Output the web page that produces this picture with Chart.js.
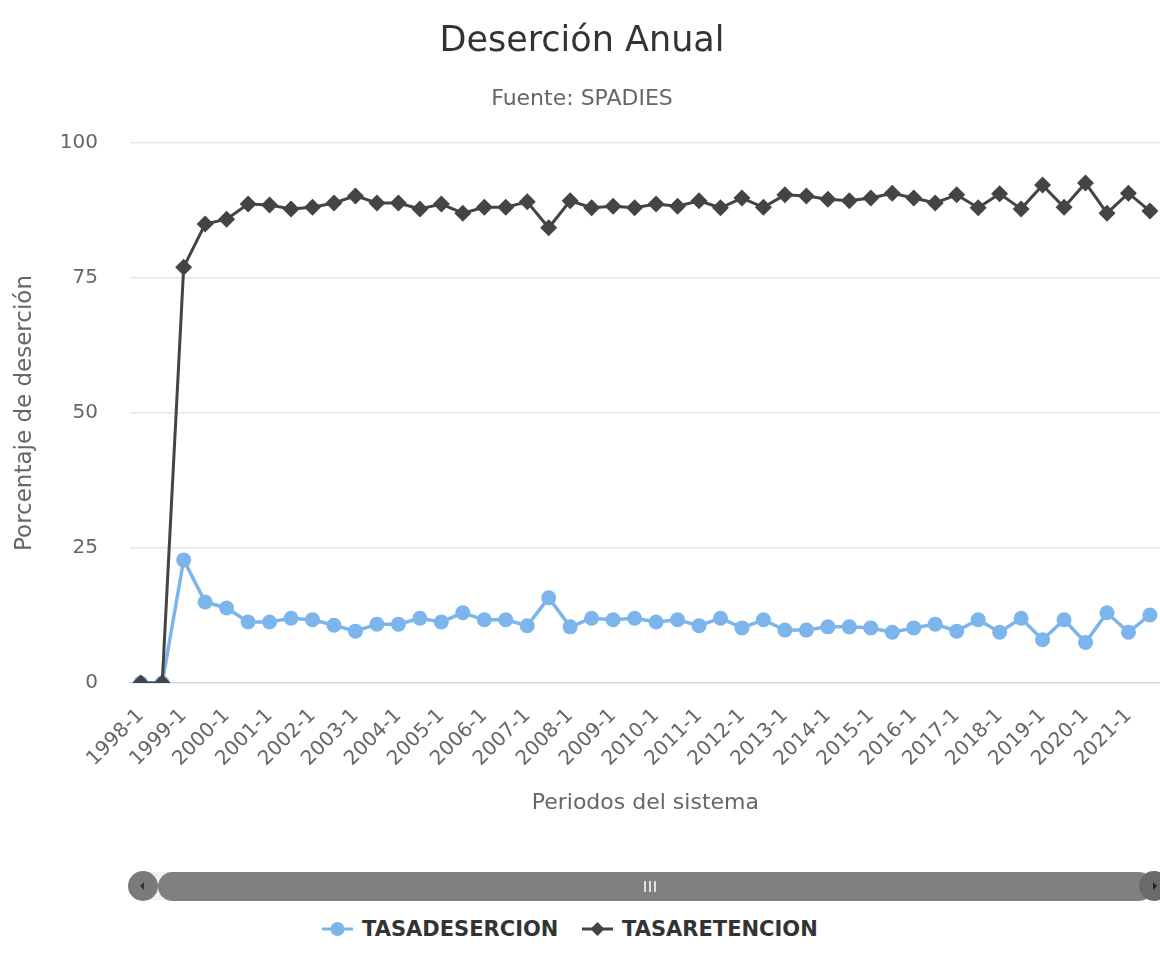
<!DOCTYPE html>
<html>
<head>
<meta charset="utf-8">
<script src="https://cdn.jsdelivr.net/npm/chart.js@4.4.1/dist/chart.umd.min.js"></script>
<style>
  body { margin: 0; background: #fff; width: 1160px; height: 965px; overflow: hidden; position: relative; font-family: "DejaVu Sans", sans-serif; }
  #wrap { position: absolute; left: 0; top: 0; width: 1180px; height: 830px; }
  .title { position: absolute; left: 0; width: 1164px; text-align: center; white-space: nowrap; }
  .track { position: absolute; left: 128px; top: 872px; width: 1060px; height: 28px; background: #f2f2f2; border-radius: 14px; }
  .thumb { position: absolute; left: 158px; top: 872px; width: 995px; height: 29px; background: #808080; border-radius: 15px; }
  .grip { position: absolute; top: 881px; width: 1.5px; height: 11px; background: #e0e0e0; }
  .btn { position: absolute; top: 871px; width: 30px; height: 30px; border-radius: 15px; background: #7a7a7a; }
  .legend { position: absolute; top: 914px; height: 30px; display: flex; align-items: center; font-weight: bold; font-size: 21px; color: #333; }
  .legend svg { margin-right: 9px; }
</style>
</head>
<body>
<div id="wrap"><canvas id="chart" width="1180" height="830"></canvas></div>

<div class="title" style="top:18px; height:42px; line-height:42px; font-size:35px; color:#333;">Deserción Anual</div>
<div class="title" style="top:85px; height:26px; line-height:26px; font-size:22px; color:#666;">Fuente: SPADIES</div>

<!-- navigator scrollbar -->
<div class="track"></div>
<div class="thumb"></div>
<div class="grip" style="left:644px"></div>
<div class="grip" style="left:649px"></div>
<div class="grip" style="left:654px"></div>
<div class="btn" style="left:128px">
  <svg width="30" height="30"><path d="M12 15 L16 11 L16 19 Z" fill="#333"/></svg>
</div>
<div class="btn" style="left:1139px; background:#6a6a6a">
  <svg width="30" height="30"><path d="M18 15 L14 11 L14 19 Z" fill="#222"/></svg>
</div>

<!-- legend -->
<div class="legend" style="left:322px">
  <svg width="31" height="16"><line x1="0" y1="8" x2="31" y2="8" stroke="#7cb5ec" stroke-width="3"/><circle cx="15.5" cy="8" r="7" fill="#7cb5ec"/></svg>TASADESERCION
</div>
<div class="legend" style="left:582px">
  <svg width="31" height="16"><line x1="0" y1="8" x2="31" y2="8" stroke="#434348" stroke-width="3"/><path d="M15.5 1 L22.5 8 L15.5 15 L8.5 8 Z" fill="#434348"/></svg>TASARETENCION
</div>

<script>
// Periodos del sistema (semestres)
const periodos = [
  "1998-1", "1998-2", "1999-1", "1999-2", "2000-1", "2000-2", "2001-1", "2001-2",
  "2002-1", "2002-2", "2003-1", "2003-2", "2004-1", "2004-2", "2005-1", "2005-2",
  "2006-1", "2006-2", "2007-1", "2007-2", "2008-1", "2008-2", "2009-1", "2009-2",
  "2010-1", "2010-2", "2011-1", "2011-2", "2012-1", "2012-2", "2013-1", "2013-2",
  "2014-1", "2014-2", "2015-1", "2015-2", "2016-1", "2016-2", "2017-1", "2017-2",
  "2018-1", "2018-2", "2019-1", "2019-2", "2020-1", "2020-2", "2021-1", "2021-2"
];

const tasaDesercion = [
  0, 0, 22.8, 15.0, 13.9, 11.3, 11.3, 12.0,
  11.7, 10.7, 9.6, 10.9, 10.9, 12.0, 11.3, 13.0,
  11.7, 11.7, 10.6, 15.8, 10.4, 12.0, 11.7, 12.0,
  11.3, 11.7, 10.6, 12.0, 10.2, 11.7, 9.8, 9.8,
  10.4, 10.4, 10.2, 9.4, 10.2, 10.9, 9.6, 11.7,
  9.4, 12.0, 8.0, 11.7, 7.5, 13.0, 9.4, 12.6
];

const tasaRetencion = [
  0, 0, 77.0, 85.0, 85.9, 88.7, 88.5, 87.8,
  88.1, 88.9, 90.2, 88.9, 88.9, 87.8, 88.7, 87.0,
  88.1, 88.1, 89.1, 84.3, 89.3, 88.0, 88.3, 88.0,
  88.7, 88.3, 89.3, 88.0, 89.8, 88.1, 90.4, 90.2,
  89.6, 89.3, 89.8, 90.7, 89.8, 88.9, 90.4, 88.0,
  90.6, 87.8, 92.2, 88.1, 92.6, 87.0, 90.7, 87.4
];

const yTicks = [0, 25, 50, 75, 100];

const FONT = "'DejaVu Sans', sans-serif";

new Chart(document.getElementById("chart").getContext("2d"), {
  type: "line",
  data: {
    labels: periodos,
    datasets: [
      {
        label: "TASADESERCION",
        data: tasaDesercion,
        borderColor: "#7cb5ec",
        backgroundColor: "#7cb5ec",
        borderWidth: 3.5,
        pointRadius: 7.5,
        pointStyle: "circle",
        pointBorderWidth: 0,
        tension: 0,
        order: 2,
      },
      {
        label: "TASARETENCION",
        data: tasaRetencion,
        borderColor: "#434348",
        backgroundColor: "#434348",
        borderWidth: 3,
        pointRadius: 8.5,
        pointStyle: "rectRot",
        pointBorderWidth: 0,
        tension: 0,
        order: 1,
      },
    ],
  },
  options: {
    responsive: false,
    animation: false,
    layout: { padding: { top: 143, left: 0, right: 0, bottom: 0 } },
    plugins: {
      legend: { display: false },
      tooltip: { enabled: false },
    },
    scales: {
      x: {
        offset: true,
        grid: { display: false },
        border: { display: true, color: "#ccd6eb", width: 1.5 },
        afterFit: (scale) => { scale.height = 147; },
        ticks: {
          autoSkip: false,
          minRotation: 45,
          maxRotation: 45,
          padding: 13,
          color: "#666666",
          font: { family: FONT, size: 20 },
          callback: function (value, index) {
            return index % 2 === 0 ? periodos[index] : "";
          },
        },
        title: {
          display: true,
          text: "Periodos del sistema",
          color: "#666666",
          font: { family: FONT, size: 22 },
          padding: { top: 0, bottom: 14 },
        },
      },
      y: {
        min: 0,
        max: 100,
        afterFit: (scale) => { scale.width = 130; },
        afterBuildTicks: (scale) => { scale.ticks = yTicks.map((v) => ({ value: v })); },
        grid: {
          drawTicks: false,
          color: (ctx) => (ctx.tick && ctx.tick.value === 0 ? "rgba(0,0,0,0)" : "#e6e6e6"),
          lineWidth: 1.5,
        },
        border: { display: false },
        ticks: {
          padding: 32,
          color: "#666666",
          font: { family: FONT, size: 20 },
        },
        title: {
          display: true,
          text: "Porcentaje de deserción",
          color: "#666666",
          font: { family: FONT, size: 23 },
          padding: { top: 11, bottom: 0 },
        },
      },
    },
  },
});
</script>
</body>
</html>
